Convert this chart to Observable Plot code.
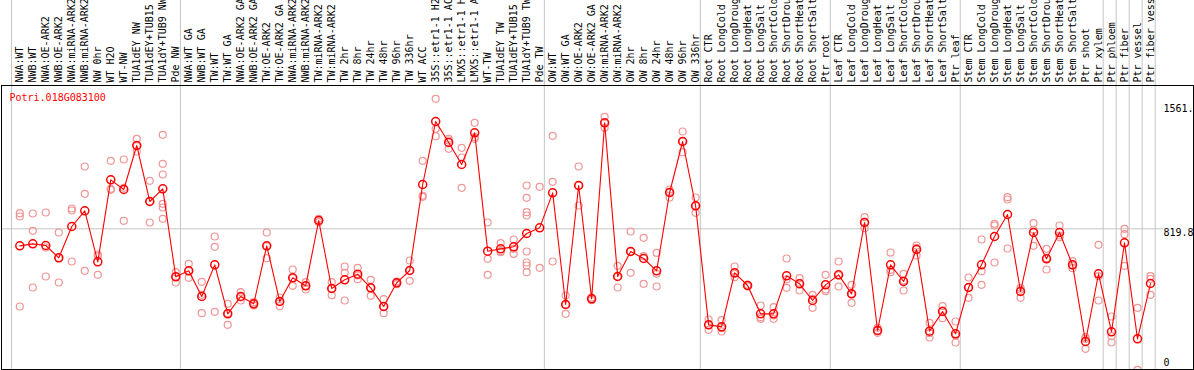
<!DOCTYPE html>
<html>
<head>
<meta charset="utf-8">
<script src="https://cdn.jsdelivr.net/npm/d3@7"></script>
<script src="https://cdn.jsdelivr.net/npm/@observablehq/plot@0.6"></script>
<style>
  html, body { margin: 0; padding: 0; background: white; }
</style>
</head>
<body>
<div id="chart"></div>
<script>
const geneId = "Potri.018G083100";

const categories = [
  "NWA:WT", "NWB:WT", "NWA:OE-ARK2", "NWB:OE-ARK2", "NWA:miRNA-ARK2", "NWB:miRNA-ARK2",
  "NW 0hr", "WT H2O", "WT-NW", "TUA1dEY NW", "TUA1dEY+TUB15 NW", "TUA1dY+TUB9 NW", "Pde NW",
  "NWA:WT GA", "NWB:WT GA", "TW:WT", "TW:WT GA", "NWA:OE-ARK2 GA", "NWB:OE-ARK2 GA",
  "TW:OE-ARK2", "TW:OE-ARK2 GA", "NWA:miRNA-ARK2 GA", "NWB:miRNA-ARK2 GA", "TW:miRNA-ARK2",
  "TW:miRNA-ARK2 GA", "TW 2hr", "TW 8hr", "TW 24hr", "TW 48hr", "TW 96hr", "TW 336hr",
  "WT ACC", "35S::etr1-1 H2O", "35S::etr1-1 ACC", "LMX5::etr1-1 H2O", "LMX5::etr1-1 ACC",
  "WT-TW", "TUA1dEY TW", "TUA1dEY+TUB15 TW", "TUA1dY+TUB9 TW", "Pde TW",
  "OW:WT", "OW:WT GA", "OW:OE-ARK2", "OW:OE-ARK2 GA", "OW:miRNA-ARK2", "OW:miRNA-ARK2 GA",
  "OW 2hr", "OW 8hr", "OW 24hr", "OW 48hr", "OW 96hr", "OW 336hr",
  "Root CTR", "Root LongCold", "Root LongDrought", "Root LongHeat", "Root LongSalt",
  "Root ShortCold", "Root ShortDrought", "Root ShortHeat", "Root ShortSalt", "Ptr root",
  "Leaf CTR", "Leaf LongCold", "Leaf LongDrought", "Leaf LongHeat", "Leaf LongSalt",
  "Leaf ShortCold", "Leaf ShortDrought", "Leaf ShortHeat", "Leaf ShortSalt", "Ptr leaf",
  "Stem CTR", "Stem LongCold", "Stem LongDrought", "Stem LongHeat", "Stem LongSalt",
  "Stem ShortCold", "Stem ShortDrought", "Stem ShortHeat", "Stem ShortSalt", "Ptr shoot",
  "Ptr xylem", "Ptr phloem", "Ptr fiber", "Ptr vessel", "Ptr fiber vessel"
];

// index of the first sample of each group (plus the end)
const groupStarts = [0, 13, 41, 53, 63, 73, 84, 85, 86, 87, 88];

const means = [
  718.3, 730.2, 720.3, 646.8, 833.6, 927.0, 622.9, 1111.9, 1054.2, 1316.6, 982.7, 1058.2, 533.5,
  569.2, 416.2, 605.0, 312.8, 416.2, 372.5, 718.3, 386.4, 527.5, 479.8, 869.4, 463.9, 515.6,
  549.4, 467.9, 356.6, 497.7, 571.2, 1084.1, 1459.7, 1334.5, 1203.3, 1392.2, 686.5, 700.4,
  712.4, 791.9, 825.7,
  1034.4, 368.5, 1078.1, 402.3, 1451.8, 535.5, 684.5, 642.8, 569.2, 1036.3, 1340.5, 956.8,
  247.2, 235.3, 557.3, 481.8, 312.8, 312.8, 539.4, 491.7, 392.3, 485.8,
  545.4, 432.1, 857.5, 213.4, 605.0, 505.6, 696.5, 209.5, 326.7, 193.6,
  469.9, 605.0, 774.0, 905.2, 446.0, 797.8, 640.8, 797.8, 605.0, 147.8, 551.4,
  205.5, 736.2, 163.7, 493.7
];

const replicates = [
  [913.1, 893.2, 356.6], [911.1, 807.8, 469.9], [917.1, 708.4, 535.5], [797.8, 644.8, 499.7],
  [940.9, 929.0, 624.9], [1191.4, 1028.4, 569.2], [666.6, 656.7, 545.4], [1225.2, 1058.2, 1052.3],
  [1233.1, 1064.2, 867.4], [1356.4, 1312.6, 1280.8], [1105.9, 982.7, 857.5],
  [1380.2, 1207.3, 1143.7, 968.8, 946.9, 879.3], [561.3, 533.5, 499.7],
  [611.0, 569.2, 527.5], [503.6, 426.1, 316.8], [774.0, 712.4, 324.8], [372.5, 316.8, 247.2],
  [442.0, 412.2, 392.3], [382.4, 372.5, 362.5], [797.8, 714.3, 644.8], [410.2, 386.4, 358.5],
  [577.2, 525.5, 479.8], [501.7, 479.8, 457.9], [879.3, 869.4, 859.4], [501.7, 463.9, 424.1],
  [595.1, 557.3, 392.3], [587.1, 541.4, 519.6], [515.6, 467.9, 420.2], [400.3, 356.6, 316.8],
  [505.6, 497.7, 489.7], [630.9, 571.2, 509.6], [1225.2, 1016.5, 1010.5], [1594.9, 1416.0, 1372.3],
  [1356.4, 1346.4, 1296.7], [1302.7, 1245.1, 1064.2], [1451.8, 1366.3, 1356.4],
  [857.5, 640.8, 545.4], [734.2, 686.5, 680.5], [756.1, 700.4, 670.6],
  [1078.1, 1004.5, 919.1, 899.2, 684.5, 618.9, 601.0, 561.3], [1070.1, 587.1],
  [1374.3, 1100.0, 624.9], [422.1, 368.5, 312.8], [1191.4, 1078.1, 958.8], [410.2, 402.3, 394.3],
  [1487.6, 1451.8, 1422.0], [599.1, 535.5, 469.9], [803.8, 684.5, 557.3], [766.0, 656.7, 491.7],
  [676.6, 551.4, 475.8], [1054.2, 1036.3, 1006.5], [1400.1, 1340.5, 1276.9], [1006.5, 956.8, 915.1],
  [279.0, 247.2, 217.4], [275.1, 227.4, 207.5], [595.1, 551.4, 531.5], [487.7, 481.8, 475.8],
  [362.5, 292.9, 283.0], [352.6, 302.9, 283.0], [642.8, 517.6, 467.9], [525.5, 497.7, 452.0],
  [426.1, 402.3, 348.6], [545.4, 457.9, 448.0],
  [624.9, 541.4, 475.8], [485.8, 432.1, 378.4], [889.3, 857.5, 823.7], [229.3, 213.4, 199.5],
  [678.6, 575.2, 561.3], [551.4, 511.6, 452.0], [720.3, 706.4, 660.7], [259.2, 197.5, 171.7],
  [358.5, 332.7, 287.0], [267.1, 183.6, 141.9],
  [529.5, 469.9, 408.2], [756.1, 567.3, 485.8], [849.5, 839.6, 618.9], [1008.5, 994.6, 702.4],
  [467.9, 457.9, 408.2], [853.5, 813.7, 718.3], [700.4, 644.8, 577.2], [839.6, 779.9, 770.0],
  [626.9, 601.0, 585.1], [173.7, 163.7, 104.1], [724.3, 537.4, 392.3],
  [296.9, 179.6, 141.9], [819.7, 787.9, 599.1], [348.6, -21.1], [537.4, 521.5, 426.1]
];

const axisTicks = [
  {value: 1561, label: "1561."},
  {value: 819.8, label: "819.8"}
];
const zeroTick = [{value: 0, label: "0"}];
const guideValue = 819.8;

const repRows = replicates.flatMap((vals, i) => vals.map(v => ({i, v})));
const meanRows = means.map((v, i) => ({i, v, name: categories[i]}));

const red = "#ff0000";
const pink = "#ef9696";
const grid = "#c4c4c4";

const chart = Plot.plot({
  width: 1194,
  height: 370,
  marginTop: 85,
  marginBottom: 1,
  marginLeft: 1,
  marginRight: 1,
  x: {type: "linear", domain: [0, 87], range: [19.3, 1150], axis: null},
  y: {type: "linear", domain: [-19.1, 1674.4], range: [369, 85], axis: null},
  style: {fontFamily: "'DejaVu Sans Mono', monospace", fontSize: "10px", background: "white", overflow: "hidden"},
  marks: [
    Plot.ruleX(groupStarts, {x: d => d - 0.64, stroke: grid, strokeWidth: 1, insetTop: -85}),
    Plot.ruleY([guideValue], {stroke: grid, strokeWidth: 1, insetRight: 30}),
    Plot.frame({stroke: "black", strokeWidth: 1}),
    Plot.text(categories, {
      x: (d, i) => i, text: d => d, frameAnchor: "top", rotate: -90,
      textAnchor: "start", lineAnchor: "middle", dy: -3, fill: "black"
    }),
    Plot.text([geneId], {
      frameAnchor: "top-left", text: d => d, dx: 8, dy: 8,
      textAnchor: "start", lineAnchor: "top", fill: red
    }),
    Plot.text(axisTicks, {
      y: "value", text: "label", frameAnchor: "right", dx: -30,
      textAnchor: "start", lineAnchor: "top", fill: "black"
    }),
    Plot.text(zeroTick, {
      y: "value", text: "label", frameAnchor: "right", dx: -30,
      textAnchor: "start", lineAnchor: "bottom", fill: "black"
    }),
    Plot.dot(repRows, {x: "i", y: "v", r: 3.5, stroke: pink, strokeWidth: 1.2, fill: "none", clip: "frame"}),
    Plot.line(meanRows, {x: "i", y: "v", stroke: red, strokeWidth: 1.1}),
    Plot.dot(meanRows, {x: "i", y: "v", r: 4, stroke: red, strokeWidth: 1.5, fill: "none", title: "name"})
  ]
});

document.getElementById("chart").appendChild(chart);
</script>
</body>
</html>
